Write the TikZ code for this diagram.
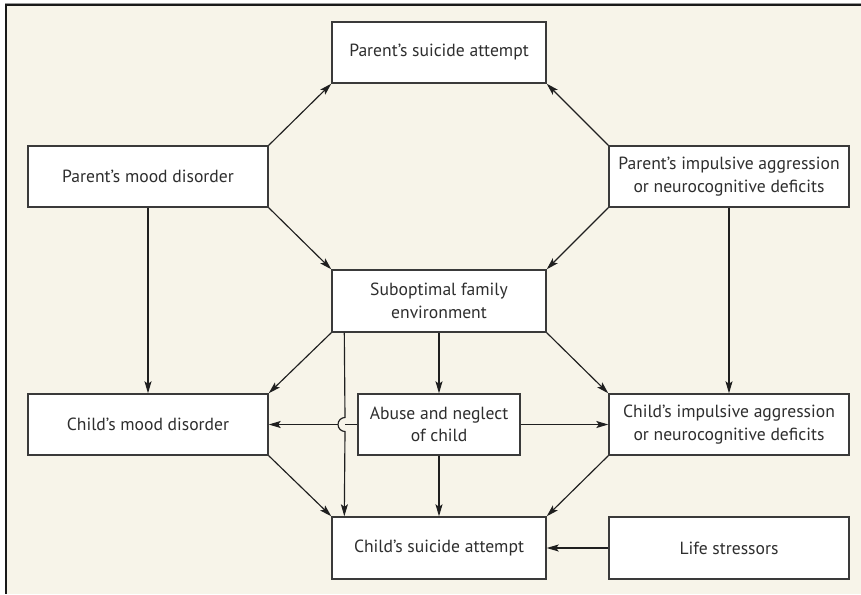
\documentclass[tikz,border=0pt]{standalone}
\usepackage{fontspec}
\setmainfont{PT Sans}
\usetikzlibrary{arrows.meta}
\definecolor{cream}{HTML}{F7F4E9}
\definecolor{boxline}{HTML}{3A3A3A}
\definecolor{txt}{HTML}{2E2E2E}
\tikzset{
  box/.style={draw=boxline, line width=1.4pt, fill=white, rectangle, inner sep=0pt,
    text=txt, align=center, font=\fontsize{17.6}{22.5}\selectfont},
  conn/.style={draw=black!88, line width=1.15pt},
  arr/.style={conn, -{Stealth[length=12pt,width=7pt,inset=2.5pt]}}
}
\begin{document}
\begin{tikzpicture}[x=1pt,y=-1pt]
\useasboundingbox (0,0) rectangle (861,594);
\fill[white] (0,0) rectangle (861,594);
\fill[cream] (6,5) rectangle (861,594);
\draw[black!40, line width=1pt] (5,3.8) -- (861,3.8);
\draw[black!90, line width=1.6pt] (861,5.2) -- (6.2,5.2) -- (6.2,594);

\node[box, minimum width=214pt, minimum height=61pt] (psa) at (439,52.5) {Parent’s suicide attempt};
\node[box, minimum width=240pt, minimum height=61pt] (pmd) at (148,176.5) {Parent’s mood disorder};
\node[box, minimum width=240pt, minimum height=61pt] (pia) at (729,176.5) {Parent’s impulsive aggression\\or neurocognitive deficits};
\node[box, minimum width=214pt, minimum height=62pt] (sfe) at (439,301) {Suboptimal family\\environment};
\node[box, minimum width=240pt, minimum height=61pt] (cmd) at (148,424.5) {Child’s mood disorder};
\node[box, minimum width=162pt, minimum height=61pt] (anc) at (439,424.5) {Abuse and neglect\\of child};
\node[box, minimum width=240pt, minimum height=61pt] (cia) at (729,424.5) {Child’s impulsive aggression\\or neurocognitive deficits};
\node[box, minimum width=214pt, minimum height=62pt] (csa) at (439,548) {Child’s suicide attempt};
\node[box, minimum width=240pt, minimum height=62pt] (ls) at (729,548) {Life stressors};

\coordinate (hop) at (345,424.5);

\draw[arr] (pmd.north east) -- (psa.south west);
\draw[arr] (pia.north west) -- (psa.south east);
\draw[arr] (pmd.south east) -- (sfe.north west);
\draw[arr] (pia.south west) -- (sfe.north east);
\draw[arr] (pmd.south) -- (cmd.north);
\draw[arr] (pia.south) -- (cia.north);
\draw[arr] (sfe.south west) -- (cmd.north east);
\draw[arr] (sfe.south east) -- (cia.north west);
\draw[arr] (sfe.south) -- (anc.north);
\draw[arr] ([xshift=13pt]sfe.south west) -- ([yshift=7pt]hop) arc[start angle=90, end angle=270, radius=7pt] -- ([xshift=13pt]csa.north west);
\draw[conn] (anc.west) -- (hop);
\draw[arr] ([xshift=-7pt]hop) -- (cmd.east);
\draw[arr] (anc.east) -- (cia.west);
\draw[arr] (anc.south) -- (csa.north);
\draw[arr] (cmd.south east) -- (csa.north west);
\draw[arr] (cia.south west) -- (csa.north east);
\draw[arr] (ls.west) -- (csa.east);
\end{tikzpicture}
\end{document}
